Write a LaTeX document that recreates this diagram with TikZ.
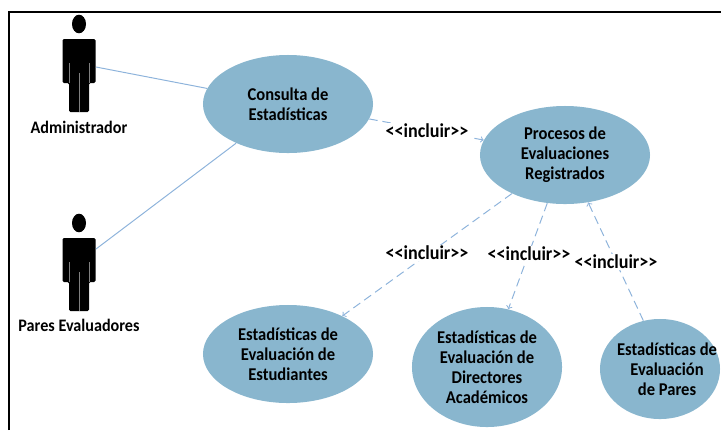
\documentclass[tikz,border=0pt]{standalone}
\usepackage{fontspec}
\setmainfont{Carlito}[FakeStretch=0.92]
\usetikzlibrary{shapes.geometric}
\definecolor{casofill}{HTML}{89B6CE}
\definecolor{enlace}{HTML}{8DB3DB}
\tikzset{
  caso/.style={ellipse, fill=casofill, inner sep=0pt, align=center, font=\fontsize{12.8}{14.2}\selectfont\bfseries},
  casotexto/.style={inner sep=0pt, align=center, font=\fontsize{12.8}{14.2}\selectfont\bfseries},
  incluye/.style={fill=white, inner sep=1pt, font=\fontsize{14}{14}\selectfont\bfseries},
  actorname/.style={inner sep=0pt, font=\fontsize{12.5}{14}\selectfont\bfseries},
  enlacedash/.style={enlace, line width=0.7pt, dash pattern=on 6pt off 3.5pt, ->},
  pics/actorfig/.style={code={
    \fill (0, -55) ellipse (7 and 9.3);
    \fill[rounded corners=1pt] (-16.5, -40) -- (16.5, -40) -- (16.5, 4) -- (10, 4) -- (10, 33) -- (-10, 33) -- (-10, 4) -- (-16.5, 4) -- cycle;
    \draw[gray, thin] (-10, -16) -- (-10, 4);
    \draw[gray, thin] (10, -16) -- (10, 4);
    \draw[gray, thin] (0, -6) -- (0, 33);
  }}
}
\begin{document}
\begin{tikzpicture}[x=0.025cm, y=-0.025cm]
      \useasboundingbox (0, 0) rectangle (721, 430);
      \clip (0, 0) rectangle (721, 430);
      \draw[line width=1.5pt] (9, 430) -- (9, 12) -- (721, 12);
      % actors
      \pic at (79, 79) {actorfig};
      \pic at (79, 278) {actorfig};
      \coordinate (adminmano) at (96, 67);
      \coordinate (paresmano) at (96, 249);
      \node[actorname] (adminname) at (79, 127) {Administrador};
      \node[actorname] (paresname) at (79, 325) {Pares Evaluadores};
      % use cases
      \node[caso, minimum width=4.25cm, minimum height=2.45cm] (consulta) at (288, 104) {Consulta de\\Estadísticas};
      \node[caso, minimum width=4.25cm, minimum height=2.45cm] (procesos) at (565, 155) {Procesos de\\Evaluaciones\\Registrados};
      \node[caso, minimum width=4.25cm, minimum height=2.45cm] (estudiantes) at (288, 354) {Estadísticas de\\Evaluación de\\Estudiantes};
      \node[caso, minimum width=3.75cm, minimum height=3cm] (directores) at (487, 367) {Estadísticas de\\Evaluación de\\Directores\\Académicos};
      \node[caso, minimum width=3cm, minimum height=2.5cm] (pares) at (660, 369) {};
      \node[casotexto] (parestexto) at (667, 369) {Estadísticas de\\Evaluación\\de Pares};
      % connectors
      \draw[enlace, line width=0.7pt] (adminmano) -- (consulta);
      \draw[enlace, line width=0.7pt] (paresmano) -- (consulta);
      \draw[enlacedash] (consulta) -- (procesos);
      \draw[enlacedash] (procesos.216) -- (estudiantes.35);
      \draw[enlacedash] (procesos) -- (directores);
      \draw[enlacedash] (pares.109) -- (procesos.-64);
      \node[incluye] (inc1) at (427, 131) {<{}<incluir>{}>};
      \node[incluye] (inc2) at (427, 253) {<{}<incluir>{}>};
      \node[incluye] (inc3) at (529, 254) {<{}<incluir>{}>};
      \node[incluye] (inc4) at (616, 262) {<{}<incluir>{}>};
\end{tikzpicture}
\end{document}
